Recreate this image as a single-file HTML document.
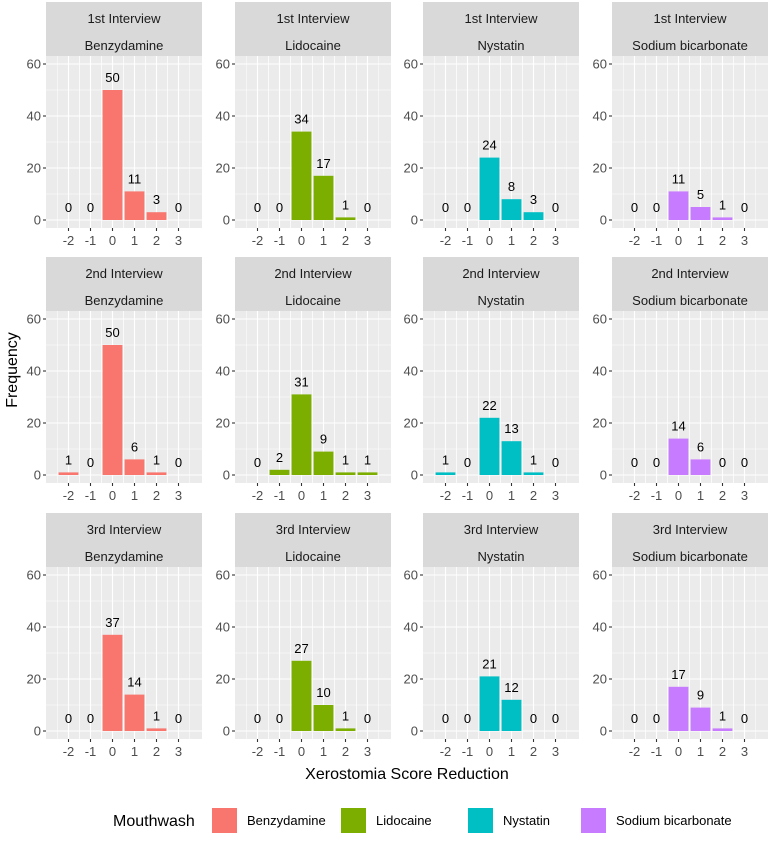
<!DOCTYPE html>
<html><head><meta charset="utf-8"><style>
body{margin:0;background:#fff;}
svg{font-family:"Liberation Sans",Arial,sans-serif;}
</style></head><body>
<svg id="c" width="770" height="836" xmlns="http://www.w3.org/2000/svg"></svg>
<script>
const interviews=["1st Interview","2nd Interview","3rd Interview"];
const mouthwashes=["Benzydamine","Lidocaine","Nystatin","Sodium bicarbonate"];
const colors=["#F8766D","#7CAE00","#00BFC4","#C77CFF"];
const xCats=[-2,-1,0,1,2,3];
const yTicks=[0,20,40,60];
const counts=[
 [[0,0,50,11,3,0],[0,0,34,17,1,0],[0,0,24,8,3,0],[0,0,11,5,1,0]],
 [[1,0,50,6,1,0],[0,2,31,9,1,1],[1,0,22,13,1,0],[0,0,14,6,0,0]],
 [[0,0,37,14,1,0],[0,0,27,10,1,0],[0,0,21,12,0,0],[0,0,17,9,1,0]]
];
const svg=document.getElementById('c');
const NS="http://www.w3.org/2000/svg";
function mk(t,a,p){const e=document.createElementNS(NS,t);for(const k in a)e.setAttribute(k,a[k]);(p||svg).appendChild(e);return e;}
const PW=156,PH=172,SH=54;
const colX=[46,235,423,612], rowY=[2,257,513];
function xs(v,l){return l+22.5+(v+2)*22;}
function ys(v,t){return t+164-v*2.6;}
for(let r=0;r<3;r++)for(let c=0;c<4;c++){
 const L=colX[c],S=rowY[r],T=S+SH;
 const g=mk('g',{});
 
 
 const st=mk('rect',{x:L,y:S,width:PW,height:SH,fill:'#D9D9D9'},g);
 
 const t1=mk('text',{x:L+PW/2,y:S+21,'text-anchor':'middle','font-size':'13',fill:'#1A1A1A'},g);t1.textContent=interviews[r];
 
 const t2=mk('text',{x:L+PW/2,y:S+48,'text-anchor':'middle','font-size':'13',fill:'#1A1A1A'},g);t2.textContent=mouthwashes[c];
 
 const bg=mk('rect',{x:L,y:T,width:PW,height:PH,fill:'#EBEBEB'},g);
 
 [10,30,50].forEach(v=>mk('line',{x1:L,x2:L+PW,y1:ys(v,T),y2:ys(v,T),stroke:'#fff','stroke-width':0.5},g));
 xCats.forEach(v=>mk('line',{x1:xs(v+0.5,L),x2:xs(v+0.5,L),y1:T,y2:T+PH,stroke:'#fff','stroke-width':0.5},g));
 xCats.forEach(v=>mk('line',{x1:xs(v-0.5,L),x2:xs(v-0.5,L),y1:T,y2:T+PH,stroke:'#fff','stroke-width':0.5},g));
 yTicks.forEach(v=>{
  mk('line',{x1:L,x2:L+PW,y1:ys(v,T),y2:ys(v,T),stroke:'#fff','stroke-width':1.1},g);
  mk('line',{x1:L-3,x2:L,y1:ys(v,T),y2:ys(v,T),stroke:'#333','stroke-width':1.1},g);
  const tl=mk('text',{x:L-5,y:ys(v,T)+4.5,'text-anchor':'end','font-size':'13',fill:'#4D4D4D'},g);tl.textContent=v;
 });
 xCats.forEach((v,i)=>{
  mk('line',{x1:xs(v,L),x2:xs(v,L),y1:T,y2:T+PH,stroke:'#fff','stroke-width':1.1},g);
  mk('line',{x1:xs(v,L),x2:xs(v,L),y1:T+PH,y2:T+PH+3,stroke:'#333','stroke-width':1.1},g);
  const tl=mk('text',{x:xs(v,L),y:T+PH+17,'text-anchor':'middle','font-size':'13',fill:'#4D4D4D'},g);tl.textContent=v;
  const n=counts[r][c][i];
  if(n>0){
   const b=mk('rect',{x:xs(v-0.45,L),y:ys(n,T),width:22*0.9,height:n*2.6,fill:colors[c]},g);
   
  }
  const lb=mk('text',{x:xs(v,L),y:ys(n,T)-8,'text-anchor':'middle','font-size':'13',fill:'#000'},g);lb.textContent=n;
  
 });
}
const xt=mk('text',{x:407,y:779,'text-anchor':'middle','font-size':'16',fill:'#000'});xt.textContent="Xerostomia Score Reduction";

const yt=mk('text',{x:17,y:370,'text-anchor':'middle','font-size':'16',fill:'#000',transform:'rotate(-90 17 370)'});yt.textContent="Frequency";

const lt=mk('text',{x:113,y:826,'font-size':'16',fill:'#000'});lt.textContent="Mouthwash";

const lx=[212,341,468,581];
mouthwashes.forEach((m,i)=>{
 const sw=mk('rect',{x:lx[i],y:808,width:25,height:25,fill:colors[i]});
 
 const tx=mk('text',{x:lx[i]+35,y:825,'font-size':'13',fill:'#000'});tx.textContent=m;
 
});
</script>
</body></html>
